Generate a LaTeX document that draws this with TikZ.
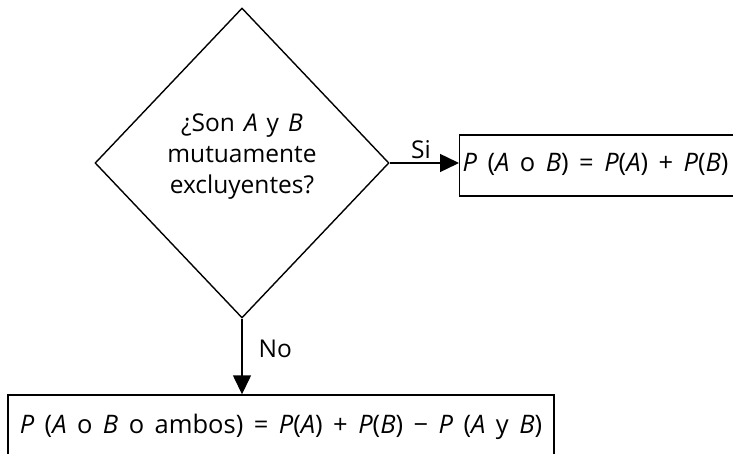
\documentclass[tikz,border=0pt]{standalone}
\usepackage{fontspec}
\setmainfont{Open Sans}
\usetikzlibrary{shapes.geometric,arrows.meta}
\newcommand\myqfont{\fontsize{24.5}{31}\selectfont\spaceskip 9pt\relax}
\newcommand\myrfont{\fontsize{25.5}{31}\selectfont\spaceskip 10.5pt\relax}
\tikzset{
  x=1pt,y=1pt,
  txt/.style={font=\myqfont, inner sep=0pt},
  decision/.style={draw, diamond, line width=1.4pt, inner sep=0pt, minimum width=294pt, minimum height=310pt},
  result/.style={draw, line width=1.4pt, font=\myrfont, inner xsep=3pt, inner ysep=4pt},
  flow/.style={line width=1.4pt, -{Triangle[length=19pt,width=18pt]}},
  lbl/.style={font=\fontsize{24.5}{30}\selectfont, inner sep=0pt}
}
\begin{document}
\begin{tikzpicture}
\useasboundingbox (0,0) rectangle (733,453);
\clip (0,0) rectangle (733,453);
\node[decision] (d) at (242,290) {};
\node[txt, align=center] (q) at (242,296) {¿Son \textit{A} y \textit{B}\\mutuamente\\excluyentes?};
\node[result, anchor=base west, text width=300pt, align=left, text height=33pt, text depth=20pt] (r) at (459,281)
  {\myrfont\textit{P} (\textit{A} o \textit{B}) = \textit{P}(\textit{A}) + \textit{P}(\textit{B})};
\node[result, anchor=base, minimum width=546pt, text height=34pt, text depth=40pt] (b) at (281,20)
  {\textit{P} (\textit{A} o \textit{B} o ambos) = \textit{P}(\textit{A}) + \textit{P}(\textit{B}) − \textit{P} (\textit{A} y \textit{B})};
\draw[flow] (d.east) -- node[lbl, above=4pt, pos=0.45] (si) {Si} (d.east -| r.west);
\draw[flow] (d.south) -- node[lbl, right=16pt, pos=0.4] (no) {No} (d.south |- b.north);
\end{tikzpicture}
\end{document}
